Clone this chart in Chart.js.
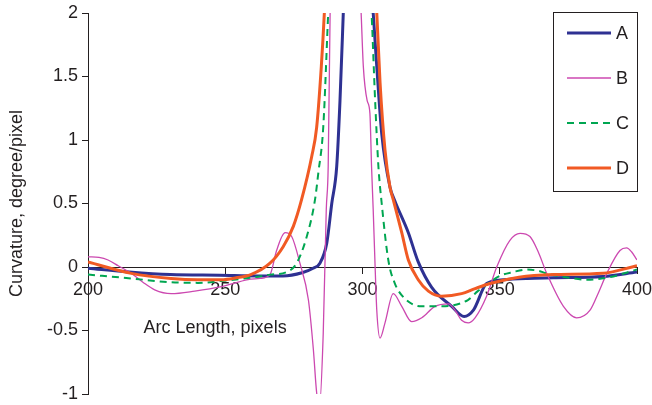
<!DOCTYPE html>
<html lang="en">
<head>
  <meta charset="UTF-8" />
  <title>Curvature vs Arc Length</title>
  <style>
    html, body { margin: 0; padding: 0; background: #fff; }
    #wrap { width: 652px; height: 405px; }
  </style>
</head>
<body>
  <div id="wrap"><canvas id="chart" width="652" height="405"></canvas></div>

  <script src="https://cdn.jsdelivr.net/npm/chart.js"></script>
  <script>
    // values (arc length in pixels, curvature in degree/pixel)
    // values above 2 / below -1 are where the lines run off the plot
    const arcA  = [200, 215, 230, 248, 262, 271, 278, 282, 284.5, 287, 288.8, 290.6, 291.8, 293, 295, 298, 301, 303.9, 305.2, 307, 310, 311.8, 316.7, 320.3, 325.2, 332.5, 337, 340.4, 345.2, 351.3, 360, 369.5, 387.6, 400];
    const curvA = [-0.01, -0.04, -0.06, -0.065, -0.07, -0.07, -0.045, -0.01, 0.03, 0.19, 0.5, 0.79, 1.31, 2.0, 3.2, 4.0, 3.2, 2.0, 1.58, 1.05, 0.63, 0.52, 0.27, 0.04, -0.16, -0.31, -0.39, -0.34, -0.13, -0.1, -0.09, -0.085, -0.075, -0.04];

    const arcB  = [200, 204, 207.3, 211, 215.8, 220, 224.3, 230.3, 238.9, 248.6, 258.3, 262.7, 266.3, 268.7, 271.8, 274.2, 277.2, 280.3, 282.1, 283.3, 284.3, 285.7, 286.8, 287.5, 288.2, 291, 294, 297, 299.5, 300.3, 301.7, 302.7, 303.3, 303.9, 304.6, 305.2, 306.4, 308.2, 311.2, 314.3, 317.9, 321.6, 326.4, 331.3, 334, 336.1, 338.5, 341, 345.2, 348.9, 353.7, 357.4, 361, 364, 367.1, 373.2, 378, 382.9, 386, 389, 393.8, 396.2, 398, 400];
    const curvB = [0.08, 0.075, 0.055, 0.01, -0.05, -0.12, -0.18, -0.21, -0.19, -0.155, -0.1, -0.09, -0.06, 0.13, 0.27, 0.24, 0.03, -0.26, -0.65, -0.99, -1.1, -0.52, 0.45, 0.79, 2.0, 3.5, 4.0, 3.2, 2.0, 1.58, 1.31, 1.21, 0.79, 0.45, 0.0, -0.34, -0.56, -0.44, -0.21, -0.31, -0.43, -0.4, -0.31, -0.29, -0.35, -0.42, -0.44, -0.4, -0.23, 0.0, 0.21, 0.265, 0.24, 0.12, -0.05, -0.31, -0.4, -0.34, -0.2, -0.05, 0.13, 0.15, 0.12, 0.055];

    const arcC  = [200, 215.7, 230, 240, 248.5, 260.7, 266.3, 272.4, 276, 279.7, 282.7, 283.9, 285.7, 287.5, 290, 295, 300, 303.3, 304.6, 305.8, 307, 309.4, 311.8, 315.5, 321.6, 328.8, 338.4, 342, 346.4, 350, 354.8, 359.8, 364, 367, 374, 381.7, 390, 400];
    const curvC = [-0.06, -0.09, -0.12, -0.125, -0.11, -0.08, -0.06, -0.04, 0.03, 0.24, 0.53, 0.74, 1.1, 2.0, 3.2, 4.0, 3.2, 2.0, 1.31, 0.79, 0.5, 0.055, -0.13, -0.25, -0.31, -0.31, -0.26, -0.19, -0.12, -0.07, -0.04, -0.02, -0.03, -0.05, -0.08, -0.1, -0.08, -0.02];

    const arcD  = [200, 215.8, 230.3, 240, 248.6, 254, 259.3, 266.3, 271.1, 274.8, 277.8, 281.5, 283.3, 285, 286.1, 289, 295, 301, 305.2, 306.4, 308.2, 310, 311.2, 314.3, 316.7, 320.3, 324, 328.8, 336.1, 341, 346.4, 357, 369.5, 387.6, 400];
    const curvD = [0.04, -0.05, -0.09, -0.1, -0.1, -0.085, -0.06, 0.03, 0.16, 0.32, 0.53, 0.87, 1.1, 1.58, 2.0, 3.5, 4.5, 3.5, 2.0, 1.45, 0.92, 0.63, 0.53, 0.27, 0.055, -0.1, -0.19, -0.23, -0.21, -0.17, -0.13, -0.08, -0.06, -0.05, 0.01];

    const seriesNames = ['A', 'B', 'C', 'D'];
    const xTicks = [200, 250, 300, 350, 400];
    const yTicks = [-1, -0.5, 0, 0.5, 1, 1.5, 2];

    const FONT = '"Liberation Sans", Arial, sans-serif';
    const INK = '#231f20';

    const toPoints = (xs, ys) => xs.map((x, i) => ({ x: x, y: ys[i] }));

    function lineSet(label, xs, ys, color, width, dash, order) {
      return {
        label: label,
        data: toPoints(xs, ys),
        borderColor: color,
        backgroundColor: color,
        borderWidth: width,
        borderDash: dash,
        pointRadius: 0,
        fill: false,
        cubicInterpolationMode: 'monotone',
        order: order
      };
    }

    // legend with a frame, top right of the plot
    const boxedLegend = {
      id: 'boxedLegend',
      afterDraw(chart) {
        const { ctx, chartArea } = chart;
        const w = 84, h = 179;
        const left = chartArea.right - w;
        const top = chartArea.top - 1;
        ctx.save();
        ctx.fillStyle = '#fff';
        ctx.fillRect(left, top, w, h);
        ctx.strokeStyle = INK;
        ctx.lineWidth = 1;
        ctx.strokeRect(left + 0.5, top + 0.5, w, h);
        chart.data.datasets.forEach((ds, i) => {
          const y = top + 21 + i * 45;
          ctx.beginPath();
          ctx.strokeStyle = ds.borderColor;
          ctx.lineWidth = ds.borderWidth;
          ctx.setLineDash(ds.borderDash || []);
          ctx.moveTo(left + 14, y);
          ctx.lineTo(left + 58, y);
          ctx.stroke();
          ctx.setLineDash([]);
          ctx.fillStyle = INK;
          ctx.font = '18px ' + FONT;
          ctx.textBaseline = 'middle';
          ctx.textAlign = 'left';
          ctx.fillText(ds.label, left + 63, y + 1);
        });
        ctx.restore();
      }
    };

    // x axis title sits under the left half of the axis, like the original
    const xTitle = {
      id: 'xTitle',
      afterDraw(chart) {
        const { ctx, scales } = chart;
        ctx.save();
        ctx.fillStyle = INK;
        ctx.font = '18px ' + FONT;
        ctx.textAlign = 'center';
        ctx.textBaseline = 'alphabetic';
        ctx.fillText('Arc Length, pixels', scales.x.getPixelForValue(246.3), scales.y.getPixelForValue(-0.52));
        ctx.restore();
      }
    };

    new Chart(document.getElementById('chart'), {
      type: 'line',
      data: {
        datasets: [
          lineSet(seriesNames[0], arcA, curvA, '#2e3192', 3, [], 4),
          lineSet(seriesNames[1], arcB, curvB, '#cc48b0', 1.3, [], 3),
          lineSet(seriesNames[2], arcC, curvC, '#00a651', 2, [7, 5], 2),
          lineSet(seriesNames[3], arcD, curvD, '#f15a24', 3, [], 1)
        ]
      },
      plugins: [boxedLegend, xTitle],
      options: {
        responsive: false,
        animation: false,
        events: [],
        layout: { padding: { left: 0, top: 13, right: 15, bottom: 11 } },
        plugins: {
          legend: { display: false },
          tooltip: { enabled: false }
        },
        scales: {
          x: {
            type: 'linear',
            position: { y: 0 },
            min: 200,
            max: 400,
            afterBuildTicks: s => { s.ticks = xTicks.map(v => ({ value: v })); },
            afterFit: s => { s.paddingLeft = 0; s.paddingRight = 0; },
            grid: { drawOnChartArea: false, drawTicks: true, tickLength: 6, color: INK },
            border: { display: true, color: INK, width: 1 },
            ticks: {
              color: INK,
              padding: 6,
              maxRotation: 0,
              autoSkip: false,
              callback: v => String(v),
              font: { family: FONT, size: 18 }
            }
          },
          y: {
            type: 'linear',
            position: 'left',
            min: -1,
            max: 2,
            afterBuildTicks: s => { s.ticks = yTicks.map(v => ({ value: v })); },
            afterFit: s => { s.width = 88; s.paddingTop = 0; s.paddingBottom = 0; },
            grid: { drawOnChartArea: false, drawTicks: true, tickLength: 6, color: INK },
            border: { display: true, color: INK, width: 1 },
            ticks: {
              color: INK,
              padding: 4,
              callback: v => String(v),
              font: { family: FONT, size: 18 }
            },
            title: {
              display: true,
              text: 'Curvature, degree/pixel',
              color: INK,
              padding: { top: 6, bottom: 0 },
              font: { family: FONT, size: 18 }
            }
          }
        }
      }
    });
  </script>
</body>
</html>
